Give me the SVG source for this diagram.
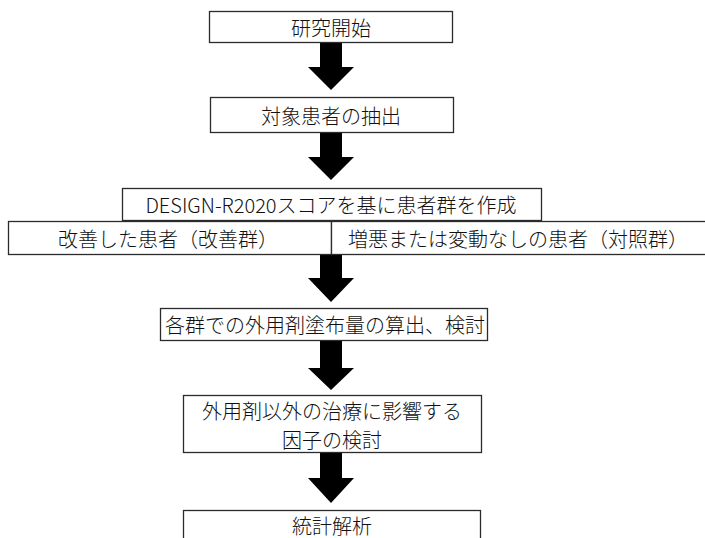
<svg xmlns="http://www.w3.org/2000/svg" width="705" height="538" viewBox="0 0 705 538">
<style>
.box{fill:#fff;stroke:#2b2b2b;stroke-width:1.3}
.t{font-family:"Noto Sans CJK JP","Noto Sans",sans-serif;font-size:20px;font-weight:300;fill:#111;text-anchor:middle;dominant-baseline:central}
.arrow{fill:#000}
</style>
<rect width="705" height="538" fill="#fff"/>
<g id="connectors">
<polygon class="arrow" points="320,42 342,42 342,67 354,67 331,90 308,67 320,67"/>
<polygon class="arrow" points="320,132 342,132 342,157 354,157 331,180 308,157 320,157"/>
<polygon class="arrow" points="320,254 342,254 342,278 354,278 331,302 308,278 320,278"/>
<polygon class="arrow" points="320,340 342,340 342,368 354,368 331,390 308,368 320,368"/>
<polygon class="arrow" points="320,452 342,452 342,478 354,478 331,503 308,478 320,478"/>
</g>
<g id="n1"><rect class="box" x="209.5" y="11.5" width="243" height="31"/><text class="t" x="331" y="27">研究開始</text></g>
<g id="n2"><rect class="box" x="210.5" y="97.5" width="243" height="35"/><text class="t" x="331" y="115">対象患者の抽出</text></g>
<g id="n3"><rect class="box" x="122.5" y="188.5" width="419" height="32"/><text class="t" x="331" y="204">DESIGN-R2020スコアを基に患者群を作成</text></g>
<g id="n4"><rect class="box" x="8.5" y="221.5" width="323" height="33"/><text class="t" x="168" y="238">改善した患者（改善群）</text></g>
<g id="n5"><rect class="box" x="331.5" y="221.5" width="380" height="33"/><text class="t" x="518" y="238">増悪または変動なしの患者（対照群）</text></g>
<g id="n6"><rect class="box" x="160.5" y="308.5" width="327" height="32"/><text class="t" x="325" y="324">各群での外用剤塗布量の算出、検討</text></g>
<g id="n7"><rect class="box" x="183.5" y="395.5" width="298" height="57"/><text class="t" x="332"><tspan x="332" y="409.5">外用剤以外の治療に影響する</tspan><tspan x="332" y="438.5">因子の検討</tspan></text></g>
<g id="n8"><rect class="box" x="183.5" y="510.5" width="297" height="40"/><text class="t" x="332" y="525">統計解析</text></g>
</svg>
